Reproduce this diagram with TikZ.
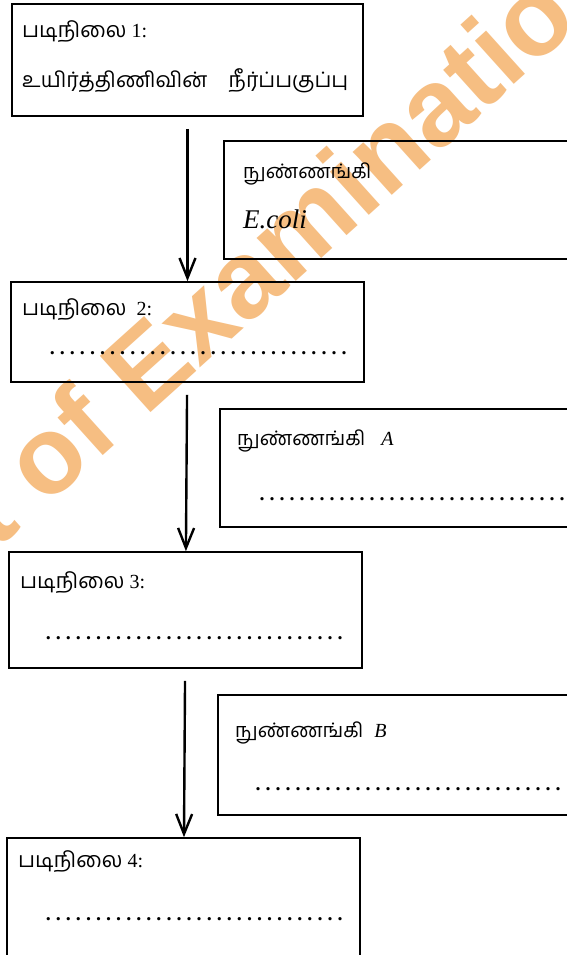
\documentclass[tikz,border=0pt]{standalone}
\usepackage{fontspec}
\setmainfont{Liberation Serif}
\newfontfamily\tamilfont[Script=Tamil]{Hind Madurai}
\newfontfamily\wmfont{Liberation Sans}
\usetikzlibrary{positioning, arrows.meta}
\definecolor{wmorange}{RGB}{246,190,130}
% dotted answer line
\newcommand{\dotrow}[1]{\hbox to #1{\xleaders\hbox to 10pt{\hss\textbf{.}\hss}\hfill}}
\newcommand{\stepword}{{\tamilfont\fontsize{21.5}{22}\selectfont படிநிலை}}
\newcommand{\microword}{{\tamilfont\fontsize{20}{22}\selectfont நுண்ணங்கி}}

\begin{document}
\begin{tikzpicture}[x=1pt, y=-1pt,
    stepbox/.style={rectangle, draw, line width=1.6pt, inner sep=0pt},
    microbox/.style={rectangle, draw, line width=1.6pt, inner sep=0pt},
    lbl/.style={anchor=base west, inner sep=0pt, font=\fontsize{20}{22}\selectfont},
    flowarrow/.style={-{Straight Barb[length=20pt, width=16pt]}, line width=2.4pt, shorten <=12pt}]
    \path[use as bounding box] (0,0) rectangle (567,955);
    \fill[white] (0,0) rectangle (567,955);
    \clip (0,0) rectangle (567,955);

    % watermark
    \node[rotate=42, text=wmorange, font=\wmfont\bfseries\fontsize{110}{110}\selectfont] (wm) at (310,216) {t of Examinations};

    % steps
    \node[stepbox, minimum width=351pt, minimum height=112pt] (step1) at (187.5,60) {};
    \node[stepbox, minimum width=353pt, minimum height=100pt] (step2) at (187.5,332) {};
    \node[stepbox, minimum width=353pt, minimum height=116pt] (step3) at (185.5,610) {};
    \node[stepbox, minimum width=353pt, minimum height=142pt] (step4) at (183.5,909) {};

    \node[lbl] (s1head) at (22,38) {\stepword\ 1:};
    \node[lbl] (s1text) at (22,88) {\tamilfont\fontsize{21.3}{22}\selectfont உயிர்த்திணிவின்\quad நீர்ப்பகுப்பு};
    \node[lbl] (s2head) at (22,315) {\stepword\ \ 2:};
    \node[lbl] (s2dots) at (47,354) {\dotrow{302pt}};
    \node[lbl] (s3head) at (20,588) {\stepword\ 3:};
    \node[lbl] (s3dots) at (43,639) {\dotrow{302pt}};
    \node[lbl] (s4head) at (18,867) {\stepword\ 4:};
    \node[lbl] (s4dots) at (43,920) {\dotrow{302pt}};

    % microorganisms
    \node[microbox, minimum width=366pt, minimum height=118pt] (mecoli) at (407,200) {};
    \node[microbox, minimum width=370pt, minimum height=118pt] (mA) at (405,468) {};
    \node[microbox, minimum width=372pt, minimum height=120pt] (mB) at (404,755) {};

    \node[lbl] (mEhead) at (243,178) {\microword};
    \node[lbl, font=\fontsize{27}{30}\selectfont\itshape] (mEname) at (243,228) {E.coli};
    \node[lbl] (mAhead) at (237,445) {\microword\hspace{16pt}\textit{A}};
    \node[lbl] (mAdots) at (257,500) {\dotrow{310pt}};
    \node[lbl] (mBhead) at (235,737) {\microword\hspace{11pt}\textit{B}};
    \node[lbl] (mBdots) at (253,790) {\dotrow{310pt}};

    % flow
    \draw[flowarrow] (step1) -- (step2);
    \draw[flowarrow] (step2) -- (step3);
    \draw[flowarrow] (step3) -- (step4);
\end{tikzpicture}
\end{document}
